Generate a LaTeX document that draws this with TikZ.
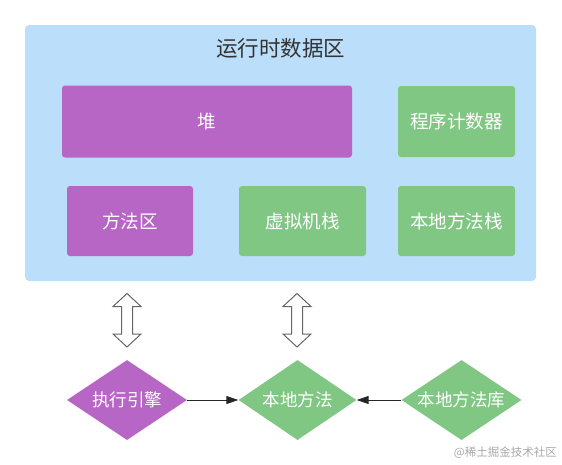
\documentclass[tikz,border=0pt]{standalone}
\usepackage{fontspec}
\setmainfont{Noto Sans CJK SC}
\usetikzlibrary{shapes.geometric,arrows.meta}
\definecolor{areablue}{HTML}{BBDEFB}
\definecolor{purp}{HTML}{B766C6}
\definecolor{grn}{HTML}{81C784}
\definecolor{titletext}{HTML}{333333}
\definecolor{arrowgray}{HTML}{666666}
\definecolor{wmgray}{HTML}{A8A8A8}
\tikzset{
  box/.style={rectangle, rounded corners=3pt, inner sep=0pt, text=white,
    font=\fontsize{18.5}{20}\selectfont},
  purplebox/.style={box, fill=purp},
  greenbox/.style={box, fill=grn},
  dia/.style={diamond, aspect=1.5, inner sep=0pt, text=white,
    font=\fontsize{17.5}{19}\selectfont},
  purpledia/.style={dia, fill=purp},
  greendia/.style={dia, fill=grn},
  link/.style={draw=black!85, line width=1pt, -{Triangle[length=12pt,width=8pt]}},
  hollowarrow/.style={draw=arrowgray, line width=1pt, fill=white}
}
\begin{document}
\begin{tikzpicture}[x=1pt,y=-1pt]
\useasboundingbox (0,0) rectangle (562,464);
% outer area
\node[rectangle, rounded corners=4pt, fill=areablue, minimum width=511pt, minimum height=256pt, inner sep=0pt] (area) at (280.5,153) {};
\node[text=titletext, font=\fontsize{21.5}{23}\selectfont] (title) at (280.5,48) {运行时数据区};
% boxes
\node[purplebox, minimum width=290pt, minimum height=72pt] (heap) at (207,121.5) {堆};
\node[greenbox, minimum width=117pt, minimum height=71pt] (pc) at (456.5,121.5) {程序计数器};
\node[purplebox, minimum width=126pt, minimum height=70pt] (method) at (130,221) {方法区};
\node[greenbox, minimum width=127pt, minimum height=70pt] (vmstack) at (302.5,221) {虚拟机栈};
\node[greenbox, minimum width=117pt, minimum height=70pt] (nstack) at (456.5,221) {本地方法栈};
% hollow double arrows
\foreach \cx/\nm in {127/da1, 297/da2} {
  \draw[hollowarrow] (\cx,293.5) -- (\cx+14,306.5) -- (\cx+5.5,306.5) -- (\cx+5.5,334) -- (\cx+14,334) -- (\cx,347) -- (\cx-14,334) -- (\cx-5.5,334) -- (\cx-5.5,306.5) -- (\cx-14,306.5) -- cycle;
}
% diamonds
\node[purpledia, minimum width=120pt, minimum height=80pt] (engine) at (127,400) {执行引擎};
\node[greendia, minimum width=118pt, minimum height=80pt] (native) at (297.5,400) {本地方法};
\node[greendia, minimum width=120pt, minimum height=80pt] (nlib) at (461.5,400) {本地方法库};
% connectors
\draw[link] (engine.east) -- (native.west);
\draw[link] (nlib.west) -- (native.east);
% watermark
\node[anchor=east, text=wmgray, font=\fontsize{11.5}{13}\selectfont, inner sep=0pt] (wm) at (557,453) {@稀土掘金技术社区};
\end{tikzpicture}
\end{document}
